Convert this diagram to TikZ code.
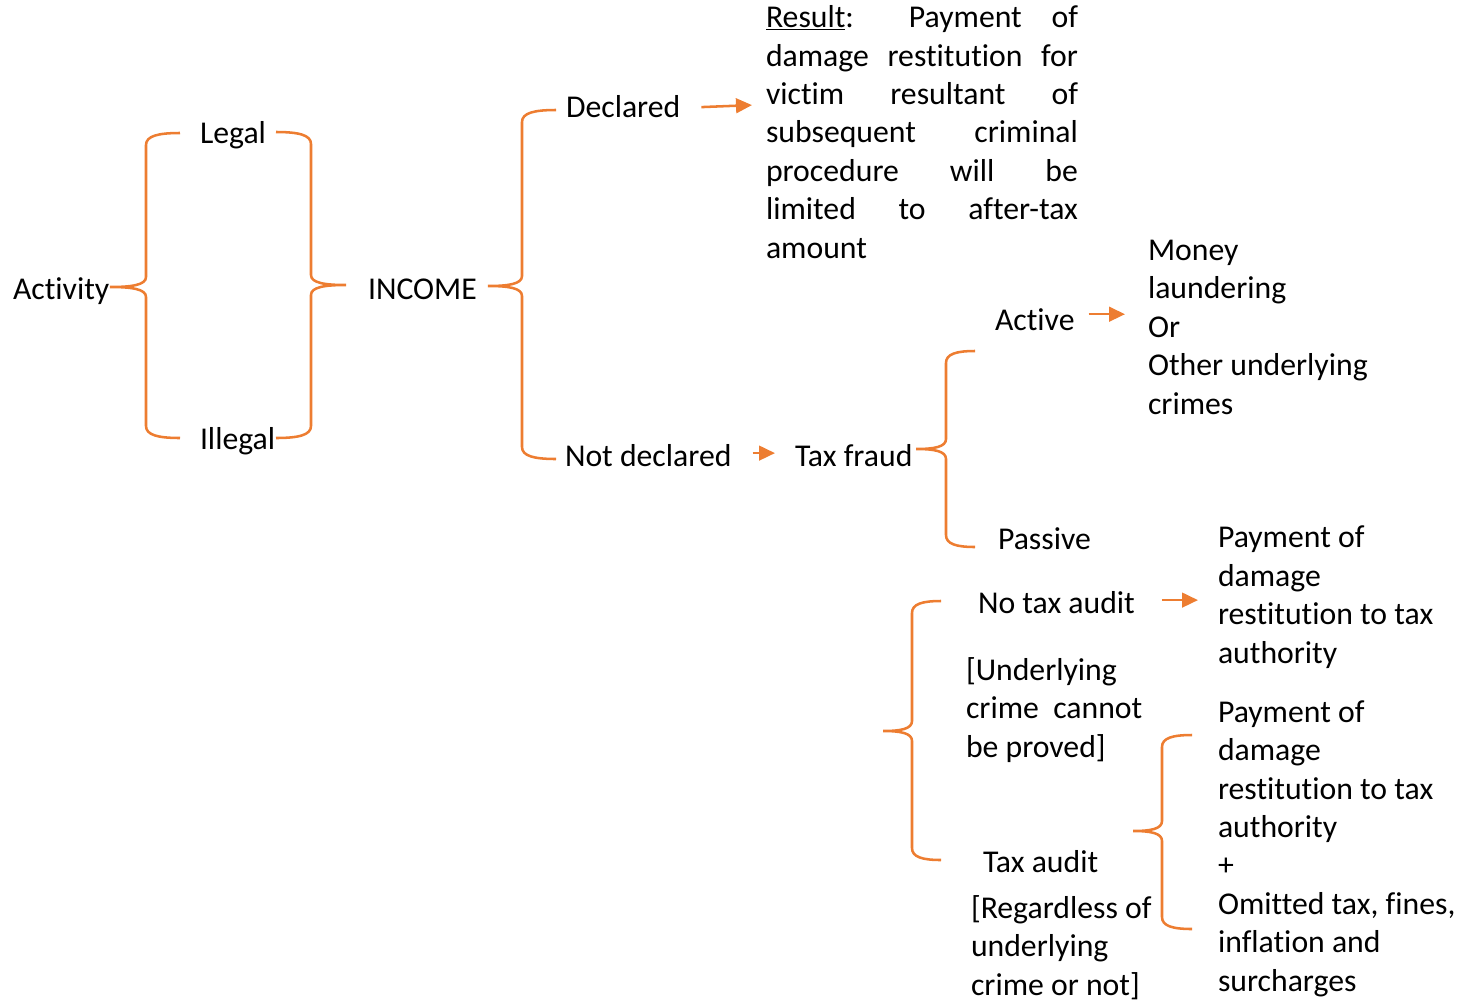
\documentclass[tikz,border=0pt]{standalone}
\usepackage{fontspec}
\setmainfont{Carlito}[Ligatures={NoCommon}]
\usetikzlibrary{arrows.meta, calc}
\definecolor{braceorange}{HTML}{ED7D31}
\newcommand{\jline}[1]{\makebox[234pt][s]{#1}}

\begin{document}
\begin{tikzpicture}[
        x=0.75pt, y=-0.75pt,
        every node/.style={inner sep=0pt, outer sep=0pt, anchor=base west,
            font={\fontsize{23.8}{28.8}\selectfont}},
        txt/.style={align=left},
        brace/.style={draw=braceorange, line width=1.9pt},
        arr/.style={draw=braceorange, line width=1.9pt, -{Triangle[length=12pt, width=11pt]}}
    ]
    \useasboundingbox (0,0) rectangle (1467,1000);

    % Activity and income
    \node (activity) at (13,299) {Activity};
    \node (legal) at (200,143) {Legal};
    \node (illegal) at (200,449) {Illegal};
    \node (income) at (368,299) {INCOME};

    % Declared or not (multi-line texts sit on their last baseline)
    \node (declared) at (566,117) {Declared};
    \node (notdecl) at (565,466) {Not declared};
    \node[txt] (result) at (766,258) {\jline{\underline{Result}: Payment of}\\
        \jline{damage restitution for}\\ \jline{victim resultant of}\\
        \jline{subsequent criminal}\\ \jline{procedure will be}\\
        \jline{limited to after-tax}\\ amount};
    \node (taxfraud) at (795,466) {Tax fraud};

    % Active / passive
    \node (active) at (995,330) {Active};
    \node (passive) at (998,549) {Passive};
    \node[txt] (money) at (1148,414) {Money\\ laundering\\ Or\\ Other underlying\\ crimes};

    % Tax audit or not
    \node (notaudit) at (978,613) {No tax audit};
    \node[txt] (underlying) at (966,757) {[Underlying\\ crime\ \ cannot\\ be proved]};
    \node (taxaudit) at (983,872) {Tax audit};
    \node[txt] (regardless) at (971,995) {[Regardless of\\ underlying\\ crime or not]};
    \node[txt] (pay1) at (1218,663) {Payment of\\ damage\\ restitution to tax\\ authority};
    \node[txt] (pay2) at (1218,991) {Payment of\\ damage\\ restitution to tax\\ authority\\ +\\
        Omitted tax, fines,\\ inflation and\\ surcharges};

    % Braces: tip x/tip y/stem x/arm x/arm top/arm bottom
    \foreach \tx/\ty/\vx/\ax/\yt/\yb in {110/287/146/180/133/438, 346/285/311/276/132/438,
            488/286/522/556/110/459, 916/449/946/975/351/547,
            883/731/912/941/601/860, 1133/831/1162/1192/735/929} {
        \draw[brace] (\ax,\yt) .. controls ({\vx+0.35*(\ax-\vx)},\yt) and (\vx,\yt+3) .. (\vx,\yt+12)
            -- (\vx,\ty-10) .. controls (\vx,\ty-2) and ({\vx+0.4*(\tx-\vx)},\ty) .. (\tx,\ty)
            .. controls ({\vx+0.4*(\tx-\vx)},\ty) and (\vx,\ty+2) .. (\vx,\ty+10)
            -- (\vx,\yb-12) .. controls (\vx,\yb-3) and ({\vx+0.35*(\ax-\vx)},\yb) .. (\ax,\yb);
    }

    % Arrows
    \draw[arr] ($(declared.east)+(21,1)$) -- ($(result.west |- declared.east)+(-14,-1)$);
    \draw[arr] ($(notdecl.east)+(21,-2)$) -- ($(taxfraud.west |- notdecl.east)+(-20,-2)$);
    \draw[arr] ($(active.east)+(14,-5)$) -- ($(money.west |- active.east)+(-23,-5)$);
    \draw[arr] ($(notaudit.east)+(27,-2)$) -- ($(pay1.west |- notaudit.east)+(-20,-2)$);
\end{tikzpicture}
\end{document}
